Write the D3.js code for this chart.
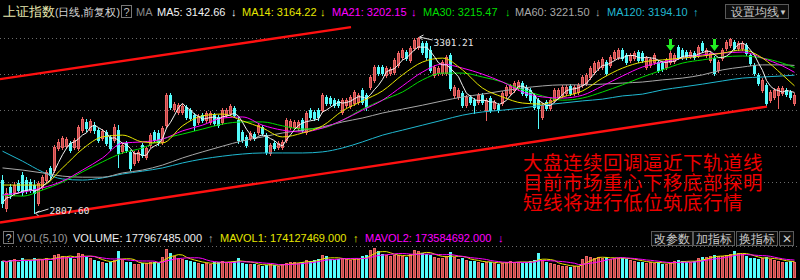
<!DOCTYPE html>
<html>
<head>
<meta charset="utf-8">
<script src="https://cdnjs.cloudflare.com/ajax/libs/d3/7.8.5/d3.min.js"></script>
<style>
  body { margin: 0; background: #000; }
  svg { display: block; }
  text { font-family: "Liberation Sans", Arial, sans-serif; }
</style>
</head>
<body>
<div class="content"></div>
<script>
// Daily candles, oldest first (prices)
var open = [
  2900, 2822, 2881, 2866, 2892, 2914, 2900, 2895, 2886, 2836,
  2881, 2900, 2934, 2928, 2990, 2993, 2996, 3004, 2993, 2990,
  3040, 3063, 3040, 3054, 3040, 3018, 3035, 3021, 3012, 3040,
  2982, 3004, 2979, 2948, 2956, 2998, 2965, 2998, 3035, 3032,
  3007, 3054, 3139, 3099, 3091, 3091, 3105, 3097, 3082, 3063,
  3082, 3068, 3063, 3082, 3077, 3063, 3082, 3088, 3102, 3068,
  3035, 3021, 3018, 3029, 3035, 3049, 3026, 2976, 3004, 2993,
  2993, 3012, 3049, 3049, 3046, 3068, 3035, 3097, 3091, 3097,
  3097, 3133, 3130, 3125, 3122, 3091, 3111, 3108, 3116, 3119,
  3153, 3139, 3161, 3181, 3217, 3217, 3195, 3200, 3203, 3223,
  3245, 3259, 3237, 3270, 3273, 3284, 3284, 3265, 3195, 3200,
  3200, 3200, 3251, 3139, 3133, 3144, 3111, 3133, 3125, 3119,
  3139, 3097, 3130, 3102, 3111, 3116, 3139, 3144, 3153, 3158,
  3172, 3161, 3153, 3139, 3125, 3077, 3119, 3102, 3125, 3133,
  3139, 3144, 3164, 3144, 3147, 3167, 3172, 3189, 3203, 3214,
  3217, 3231, 3223, 3242, 3245, 3265, 3251, 3237, 3242, 3259,
  3256, 3217, 3223, 3231, 3231, 3228, 3217, 3231, 3234, 3273,
  3265, 3259, 3248, 3256, 3251, 3284, 3251, 3237, 3242, 3209,
  3242, 3270, 3279, 3287, 3270, 3270, 3279, 3251, 3223, 3195,
  3153, 3167, 3125, 3133, 3139, 3144, 3153, 3147, 3116
];
var high = [
  2914, 2878, 2889, 2895, 2900, 2923, 2909, 2903, 2900, 2897,
  2914, 2928, 2939, 2998, 3015, 3024, 3021, 3010, 3018, 3054,
  3077, 3071, 3071, 3063, 3046, 3043, 3040, 3026, 3057, 3054,
  3004, 3010, 2984, 2982, 2984, 3004, 2996, 3032, 3040, 3040,
  3052, 3144, 3144, 3119, 3116, 3113, 3111, 3102, 3088, 3085,
  3088, 3094, 3094, 3088, 3082, 3102, 3102, 3113, 3108, 3077,
  3040, 3026, 3038, 3035, 3060, 3054, 3032, 3004, 3010, 3010,
  3012, 3074, 3071, 3068, 3068, 3074, 3094, 3102, 3097, 3102,
  3144, 3139, 3136, 3130, 3127, 3130, 3130, 3139, 3153, 3144,
  3158, 3144, 3195, 3223, 3223, 3223, 3220, 3217, 3242, 3262,
  3270, 3265, 3276, 3298, 3301.21, 3290, 3290, 3276, 3223, 3220,
  3237, 3251, 3256, 3167, 3158, 3150, 3139, 3139, 3130, 3144,
  3144, 3130, 3136, 3125, 3116, 3150, 3167, 3169, 3178, 3181,
  3178, 3167, 3158, 3144, 3130, 3116, 3125, 3130, 3158, 3158,
  3167, 3167, 3169, 3167, 3172, 3195, 3200, 3220, 3234, 3237,
  3245, 3237, 3251, 3265, 3270, 3270, 3256, 3256, 3262, 3265,
  3262, 3248, 3245, 3256, 3237, 3234, 3242, 3262, 3256, 3279,
  3270, 3265, 3265, 3262, 3279, 3290, 3270, 3262, 3248, 3237,
  3270, 3293, 3298, 3293, 3290, 3290, 3284, 3256, 3228, 3200,
  3186, 3172, 3153, 3158, 3164, 3164, 3158, 3153, 3144
];
var low = [
  2824, 2813, 2850, 2858, 2866, 2858, 2864, 2866, 2807.6, 2830,
  2875, 2895, 2906, 2923, 2984, 2987, 2990, 2979, 2987, 2984,
  3035, 3038, 3035, 3032, 3007, 3012, 2998, 2984, 3007, 2937,
  2976, 2979, 2928, 2942, 2951, 2965, 2959, 2993, 3007, 2998,
  3001, 3049, 3099, 3094, 3085, 3085, 3071, 3068, 3040, 3057,
  3063, 3063, 3057, 3054, 3049, 3057, 3077, 3082, 3077, 3004,
  3007, 2993, 3012, 3012, 3029, 3026, 2973, 2970, 2984, 2987,
  2987, 3007, 3043, 3043, 3040, 3035, 3029, 3071, 3068, 3068,
  3091, 3111, 3111, 3105, 3105, 3085, 3105, 3102, 3111, 3113,
  3113, 3097, 3155, 3175, 3195, 3195, 3189, 3195, 3197, 3217,
  3240, 3237, 3231, 3265, 3268, 3254, 3240, 3203, 3189, 3195,
  3195, 3195, 3153, 3133, 3127, 3105, 3105, 3113, 3088, 3113,
  3113, 3068, 3091, 3097, 3091, 3111, 3133, 3139, 3147, 3153,
  3139, 3133, 3119, 3099, 3046, 3071, 3097, 3097, 3119, 3127,
  3133, 3139, 3139, 3139, 3141, 3161, 3167, 3183, 3197, 3209,
  3212, 3195, 3217, 3237, 3240, 3237, 3226, 3231, 3237, 3231,
  3231, 3212, 3217, 3226, 3203, 3206, 3212, 3226, 3228, 3240,
  3240, 3240, 3242, 3240, 3245, 3259, 3245, 3231, 3195, 3203,
  3237, 3265, 3273, 3265, 3265, 3265, 3251, 3223, 3195, 3167,
  3147, 3111, 3119, 3127, 3102, 3139, 3136, 3127, 3111
];
var close = [
  2836, 2864, 2858, 2886, 2872, 2866, 2872, 2872, 2864, 2892,
  2909, 2923, 2914, 2993, 3007, 3018, 3015, 2984, 3012, 3049,
  3071, 3046, 3066, 3040, 3012, 3038, 3004, 2990, 3049, 2976,
  2998, 2984, 2934, 2976, 2979, 2970, 2990, 3026, 3012, 3007,
  3046, 3139, 3105, 3113, 3111, 3108, 3077, 3074, 3054, 3080,
  3068, 3088, 3088, 3060, 3054, 3097, 3097, 3108, 3082, 3012,
  3012, 2998, 3032, 3018, 3054, 3032, 2979, 2998, 2990, 3004,
  3007, 3068, 3066, 3063, 3063, 3040, 3088, 3077, 3074, 3077,
  3139, 3116, 3116, 3111, 3111, 3125, 3125, 3133, 3147, 3139,
  3119, 3105, 3189, 3217, 3200, 3200, 3214, 3212, 3237, 3256,
  3265, 3242, 3270, 3293, 3298, 3259, 3245, 3209, 3217, 3214,
  3231, 3245, 3158, 3161, 3153, 3111, 3133, 3119, 3111, 3139,
  3119, 3125, 3097, 3119, 3097, 3144, 3161, 3164, 3172, 3175,
  3144, 3139, 3125, 3105, 3102, 3111, 3102, 3125, 3153, 3153,
  3161, 3161, 3144, 3161, 3167, 3189, 3195, 3214, 3228, 3231,
  3240, 3200, 3245, 3259, 3265, 3242, 3231, 3251, 3256, 3237,
  3237, 3242, 3240, 3251, 3209, 3212, 3237, 3256, 3251, 3245,
  3245, 3245, 3259, 3245, 3273, 3265, 3265, 3256, 3200, 3231,
  3265, 3287, 3296, 3270, 3284, 3284, 3256, 3228, 3200, 3172,
  3181, 3116, 3147, 3153, 3158, 3158, 3141, 3133, 3139
];
// Volume, millions of shares
var volume = [
  189, 178, 200, 211, 178, 222, 189, 200, 222, 211,
  211, 222, 189, 255, 266, 244, 233, 222, 211, 278,
  266, 233, 222, 200, 189, 178, 167, 178, 200, 300,
  211, 178, 178, 155, 155, 167, 167, 178, 178, 167,
  233, 322, 278, 244, 222, 211, 200, 189, 178, 167,
  155, 167, 155, 178, 178, 189, 178, 178, 189, 222,
  167, 155, 155, 155, 144, 133, 144, 155, 144, 133,
  155, 167, 178, 178, 167, 178, 200, 189, 200, 211,
  255, 244, 211, 200, 211, 222, 211, 200, 211, 211,
  244, 255, 311, 333, 300, 266, 255, 244, 255, 255,
  244, 233, 266, 311, 300, 278, 266, 255, 233, 222,
  222, 244, 289, 233, 211, 222, 200, 189, 189, 178,
  167, 178, 178, 167, 155, 167, 178, 189, 178, 178,
  167, 178, 189, 200, 278, 200, 178, 167, 155, 144,
  133, 133, 122, 133, 133, 211, 244, 233, 222, 233,
  222, 233, 211, 222, 222, 222, 211, 200, 189, 178,
  178, 167, 178, 167, 178, 155, 155, 167, 189, 200,
  189, 178, 178, 189, 222, 233, 233, 244, 255, 244,
  244, 255, 266, 300, 278, 266, 244, 222, 222, 211,
  222, 233, 211, 200, 189, 178, 178, 189, 178
];

// Longer moving averages, every 5 candles
var maIdx = [0, 5, 10, 15, 20, 25, 30, 35, 40, 45, 50, 55, 60, 65, 70, 75, 80, 85, 90, 95,
  100, 105, 110, 115, 120, 125, 130, 135, 140, 145, 150, 155, 160, 165, 170, 175, 180, 185, 190, 195, 198];
var ma14 = [2886, 2886, 2886, 2934, 2987, 3021, 3026, 3007, 3004, 3052, 3080, 3085, 3066, 3046, 3021, 3032, 3052, 3094, 3122, 3150,
  3195, 3231, 3242, 3209, 3158, 3133, 3116, 3113, 3133, 3150, 3186, 3214, 3231, 3237, 3242, 3248, 3256, 3265, 3242, 3195, 3164.22];
var ma21 = [2858, 2866, 2878, 2897, 2928, 2962, 3004, 3007, 3015, 3038, 3054, 3074, 3077, 3054, 3040, 3035, 3046, 3068, 3096, 3124,
  3164, 3203, 3225, 3214, 3197, 3175, 3147, 3133, 3130, 3138, 3164, 3192, 3217, 3231, 3242, 3251, 3256, 3259, 3242, 3220, 3202.15];
var ma30 = [2858, 2855, 2872, 2894, 2923, 2951, 2976, 2990, 3015, 3029, 3043, 3057, 3063, 3063, 3052, 3043, 3046, 3068, 3099, 3124,
  3147, 3181, 3200, 3200, 3189, 3175, 3153, 3136, 3124, 3130, 3147, 3167, 3189, 3209, 3228, 3237, 3245, 3248, 3242, 3228, 3215.47];
var ma60 = [2934, 2928, 2920, 2911, 2908, 2908, 2920, 2928, 2942, 2962, 2979, 2995, 3010, 3021, 3032, 3040, 3049, 3063, 3074, 3088,
  3099, 3110, 3122, 3133, 3141, 3150, 3158, 3164, 3167, 3167, 3169, 3172, 3175, 3181, 3186, 3195, 3209, 3217, 3223, 3223, 3221.50];
var ma120 = [2981, 2953, 2923, 2903, 2900, 2906, 2917, 2925, 2934, 2948, 2959, 2967, 2973, 2976, 2976, 2976, 2979, 2990, 3007, 3026,
  3040, 3054, 3068, 3082, 3091, 3096, 3102, 3110, 3116, 3122, 3127, 3136, 3141, 3153, 3161, 3169, 3178, 3186, 3189, 3192, 3194.10];

// Legend texts
var maNames = ["MA5", "MA14", "MA21", "MA30", "MA60", "MA120"];
var maValues = ["3142.66", "3164.22", "3202.15", "3215.47", "3221.50", "3194.10"];
var maTrend = ["↓", "↓", "↓", "↓", "↓", "↑"];
var volNames = ["VOLUME", "MAVOL1", "MAVOL2"];
var volValues = ["177967485.000", "174127469.000", "173584692.000"];
var volTrend = ["↑", "↑", "↓"];

// Horizontal grid levels and trend channel (index, price)
var gridPrices = [3298, 3198, 3097, 2996, 2895];
var upperChannel = [[0, 3183], [87.75, 3329]];
var lowerChannel = [[0, 2781], [191.75, 3106]];
var signalIdx = [167, 178];
var noteLines = ["大盘连续回调逼近下轨道线", "目前市场重心下移底部探明", "短线将进行低位筑底行情"];

var svgWidth = 800;
var svgHeight = 280;
var upColor = "#f06464", upFill = "#b94a4a", downColor = "#54fcfc";
var maColors = ["#f2f2f2", "#e6e600", "#ff00ff", "#00dd00", "#a8a8a8", "#20b8d0"];

var svg = d3.select(".content")
  .append("svg")
  .attr("width", svgWidth)
  .attr("height", svgHeight)
  .style("background", "#000");

var candles = close.map(function(c, i) {
  return { i: i, o: open[i], h: high[i], l: low[i], c: c, v: volume[i], up: c >= open[i] };
});

// scales
var x = d3.scaleLinear().domain([0, 199]).range([0, 796]);
var y = d3.scaleLinear().domain([2807.6, 3301.21]).range([213, 37]);
var yVol = d3.scaleLinear().domain([0, 340]).range([278, 247.4]);
var cx = function(i) { return x(i) + 2.5; };

function movingAvg(values, n) {
  return values.map(function(v, i) {
    var part = values.slice(Math.max(0, i - n + 1), i + 1);
    return d3.mean(part);
  });
}

// grid
svg.append("g").selectAll("line")
  .data(gridPrices)
  .enter().append("line")
  .attr("x1", 0).attr("x2", svgWidth)
  .attr("y1", d => Math.round(y(d)) + 0.5)
  .attr("y2", d => Math.round(y(d)) + 0.5)
  .attr("stroke", "#6a6a6a")
  .attr("stroke-dasharray", "1,3");

svg.append("line")
  .attr("x1", 0).attr("x2", svgWidth)
  .attr("y1", 246.5).attr("y2", 246.5)
  .attr("stroke", "#6a6a6a")
  .attr("stroke-dasharray", "1,3");

// candles
var candleGroup = svg.append("g").attr("shape-rendering", "crispEdges");

candleGroup.selectAll("line")
  .data(candles)
  .enter().append("line")
  .attr("x1", d => cx(d.i)).attr("x2", d => cx(d.i))
  .attr("y1", d => Math.round(y(d.h)))
  .attr("y2", d => Math.round(y(d.l)) + 1)
  .attr("stroke", d => d.up ? upColor : downColor);

candleGroup.selectAll("rect")
  .data(candles)
  .enter().append("rect")
  .each(function(d) {
    var top = Math.round(y(Math.max(d.o, d.c)));
    var bot = Math.round(y(Math.min(d.o, d.c)));
    var r = d3.select(this);
    if (d.up) {
      r.attr("x", x(d.i) + 1.5).attr("y", top + 0.5)
        .attr("width", 2).attr("height", Math.max(0, bot - top))
        .attr("fill", upFill).attr("stroke", upColor);
    } else {
      r.attr("x", x(d.i) + 1).attr("y", top)
        .attr("width", 3).attr("height", Math.max(1, bot - top + 1))
        .attr("fill", downColor);
    }
  });

// moving average lines
var sampled = [ma14, ma21, ma30, ma60, ma120];
var curveLine = d3.line()
  .x(d => cx(d[0]))
  .y(d => y(d[1]))
  .curve(d3.curveMonotoneX);

sampled.slice().reverse().forEach(function(series, k) {
  var idx = sampled.length - 1 - k;
  svg.append("path")
    .attr("d", curveLine(series.map((v, j) => [maIdx[j], v])))
    .attr("fill", "none")
    .attr("stroke", maColors[idx + 1])
    .attr("stroke-width", 1);
});

var ma5 = movingAvg(close, 5);
svg.append("path")
  .attr("d", d3.line().x((d, i) => cx(i)).y(d => y(d))(ma5))
  .attr("fill", "none")
  .attr("stroke", maColors[0])
  .attr("stroke-width", 1);

// channel lines
[upperChannel, lowerChannel].forEach(function(seg) {
  svg.append("line")
    .attr("x1", x(seg[0][0])).attr("y1", y(seg[0][1]))
    .attr("x2", x(seg[1][0])).attr("y2", y(seg[1][1]))
    .attr("stroke", "#ff1010")
    .attr("stroke-width", 2.4);
});

// high / low markers
var hiIdx = d3.maxIndex(high), loIdx = d3.minIndex(low);
function marker(i, price, dx, dy, label) {
  var tx = cx(i) + 1, ty = y(price);
  svg.append("path")
    .attr("d", `M${tx + dx},${ty + dy} L${tx},${ty} M${tx + 4},${ty - 2} L${tx},${ty} L${tx + 3},${ty + 3}`)
    .attr("fill", "none")
    .attr("stroke", "#dddddd");
  svg.append("text")
    .attr("x", tx + dx + 1)
    .attr("y", ty + dy + (dy > 0 ? 6 : 5))
    .attr("fill", "#e6e6e6")
    .style("font-family", "'DejaVu Sans Mono', monospace")
    .style("font-size", "9.5px")
    .text(label);
}
marker(hiIdx, high[hiIdx], 13, 3, d3.format(".2f")(high[hiIdx]));
marker(loIdx, low[loIdx], 13, -4, d3.format(".2f")(low[loIdx]));

// green signal arrows, tip just above the local high
svg.append("g").selectAll("path")
  .data(signalIdx)
  .enter().append("path")
  .attr("d", function(i) {
    var px = cx(i), py = Math.round(y(d3.max(high.slice(i - 1, i + 2))));
    return `M${px - 1.5},${py - 12} h3 v6 h3 l-4.5,6 l-4.5,-6 h3 z`;
  })
  .attr("fill", "#22ee22");

// note text
svg.append("g").selectAll("text")
  .data(noteLines)
  .enter().append("text")
  .attr("x", 523)
  .attr("y", (d, i) => 170 + i * 20)
  .attr("fill", "#ee0000")
  .style("font-family", "'Noto Sans CJK SC', sans-serif")
  .style("font-size", "19.5px")
  .style("letter-spacing", "0.5px")
  .text(d => d);

// volume bars
var volGroup = svg.append("g").attr("shape-rendering", "crispEdges");
volGroup.selectAll("rect")
  .data(candles)
  .enter().append("rect")
  .each(function(d) {
    var top = Math.round(yVol(d.v));
    var r = d3.select(this);
    if (d.up) {
      r.attr("x", x(d.i) + 1.5).attr("y", top + 0.5)
        .attr("width", 2).attr("height", 278 - top - 1)
        .attr("fill", upFill).attr("stroke", upColor);
    } else {
      r.attr("x", x(d.i) + 1).attr("y", top)
        .attr("width", 3).attr("height", 278 - top)
        .attr("fill", downColor);
    }
  });

[[5, "#e6e600"], [10, "#ff00ff"]].forEach(function(p) {
  svg.append("path")
    .attr("d", d3.line().x((d, i) => cx(i)).y(d => yVol(d))(movingAvg(volume, p[0])))
    .attr("fill", "none")
    .attr("stroke", p[1])
    .attr("stroke-width", 1);
});

// header
var head = svg.append("g").style("font-size", "11px");
head.append("text").attr("x", 3).attr("y", 16).attr("fill", "#e8e8b0")
  .style("font-size", "12.5px").text("上证指数");
head.append("text").attr("x", 55).attr("y", 16).attr("fill", "#d4d4d4")
  .style("font-size", "10.5px").text("(日线,前复权)");
head.append("rect").attr("x", 121.5).attr("y", 5.5).attr("width", 10).attr("height", 12)
  .attr("fill", "none").attr("stroke", "#777");
head.append("text").attr("x", 123.5).attr("y", 15.5).attr("fill", "#bbb").text("?");
head.append("text").attr("x", 136).attr("y", 16).attr("fill", "#888").text("MA");

var maX = [157, 242, 332, 423, 515, 607];
var arrowX = [231, 320, 411, 505, 595, 693];
maNames.forEach(function(n, k) {
  head.append("text").attr("x", maX[k]).attr("y", 16).attr("fill", maColors[k])
    .text(n + ": " + maValues[k]);
  head.append("text").attr("x", arrowX[k]).attr("y", 16).attr("fill", maColors[k])
    .text(maTrend[k]);
});

head.append("rect").attr("x", 725.5).attr("y", 4.5).attr("width", 63).attr("height", 14)
  .attr("fill", "#0c0c0c").attr("stroke", "#5a5a5a");
head.append("text").attr("x", 731).attr("y", 16).attr("fill", "#c8c8c8")
  .style("font-size", "12px").text("设置均线");
head.append("text").attr("x", 779).attr("y", 15).attr("fill", "#c8c8c8")
  .style("font-size", "8px").text("▼");

// volume header
var vhead = svg.append("g").style("font-size", "11px");
vhead.append("rect").attr("x", 3.5).attr("y", 231.5).attr("width", 10).attr("height", 12)
  .attr("fill", "none").attr("stroke", "#777");
vhead.append("text").attr("x", 5.5).attr("y", 241.5).attr("fill", "#bbb").text("?");
vhead.append("text").attr("x", 17).attr("y", 242).attr("fill", "#9a9a9a").text("VOL(5,10)");
var volColors = ["#eeeeee", "#e6e600", "#ff00ff"];
var volX = [73, 220, 365], volArrowX = [208, 353, 498];
volNames.forEach(function(n, k) {
  vhead.append("text").attr("x", volX[k]).attr("y", 242).attr("fill", volColors[k])
    .text(n + ": " + volValues[k]);
  vhead.append("text").attr("x", volArrowX[k]).attr("y", 242)
    .attr("fill", k === 0 ? "#aaa" : volColors[k]).text(volTrend[k]);
});

var buttons = [["改参数", 651.5, 41], ["加指标", 693.5, 41], ["换指标", 736.5, 41], ["✕", 779.5, 14]];
buttons.forEach(function(b) {
  vhead.append("rect").attr("x", b[1]).attr("y", 231.5).attr("width", b[2]).attr("height", 14)
    .attr("fill", "#0c0c0c").attr("stroke", "#5a5a5a");
  vhead.append("text").attr("x", b[1] + b[2] / 2).attr("y", 243)
    .attr("text-anchor", "middle").attr("fill", "#c8c8c8")
    .style("font-size", "12px").text(b[0]);
});
</script>
</body>
</html>
